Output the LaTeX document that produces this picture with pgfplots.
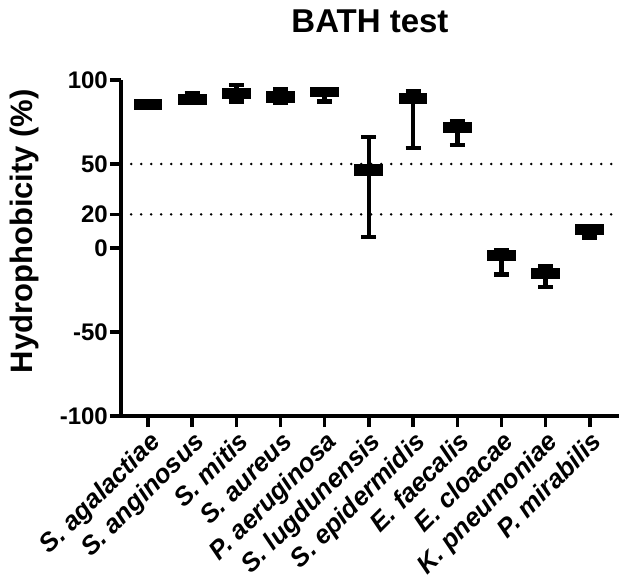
\documentclass[border=0pt]{standalone}
\usepackage{fontspec}
\setmainfont{Liberation Sans}
\usepackage{pgfplots}
\pgfplotsset{compat=1.18}
\usepgfplotslibrary{statistics}
\begin{document}
\begin{tikzpicture}
\useasboundingbox (-121bp,-166bp) rectangle (498bp,416bp);
\begin{axis}[
  at={(0,0)}, anchor=south west,
  scale only axis, width=498bp, height=336bp,
  xmin=-0.61, xmax=10.66, ymin=-100, ymax=100,
  axis x line*=bottom, axis y line*=left,
  axis line style={-, line width=3.5bp, black},
  ytick={-100,-50,0,20,50,100},
  xtick={0,1,2,3,4,5,6,7,8,9,10},
  xticklabels={S. agalactiae, S. anginosus, S. mitis, S. aureus, P. aeruginosa, S. lugdunensis, S. epidermidis, E. faecalis, E. cloacae, K. pneumoniae, P. mirabilis},
  tick align=outside, major tick length=11bp,
  tick style={line width=3.5bp, black},
  /pgf/number format/assume math mode=true,
  yticklabel style={font=\fontsize{24bp}{26bp}\selectfont\bfseries, inner sep=2bp},
  xticklabel style={font=\fontsize{26bp}{28bp}\selectfont\bfseries\itshape, rotate=45, anchor=north east, inner sep=2bp},
  ylabel={Hydrophobicity (\%)},
  ylabel style={font=\fontsize{31bp}{34bp}\selectfont\bfseries, at={(axis description cs:-0.193,0.55)}, anchor=center},
  title={BATH test},
  title style={font=\fontsize{33bp}{36bp}\selectfont\bfseries, at={(axis description cs:0.5,1)}, anchor=center, yshift=53bp},
  boxplot/draw direction=y,
  boxplot/box extend=0.55, boxplot/whisker extend=0.34,
  clip=false,
]
\addplot[black, line width=2.8bp, dash pattern=on 0pt off 10bp, line cap=round] coordinates {(-0.38,50) (10.66,50)};
\addplot[black, line width=2.8bp, dash pattern=on 0pt off 10bp, line cap=round] coordinates {(-0.38,20) (10.66,20)};
\addplot[black, fill=black, line width=4.5bp, boxplot prepared={draw position=0, lower whisker=83.3, lower quartile=83.3, median=85.3, upper quartile=87.2, upper whisker=87.2}] coordinates {};
\addplot[black, fill=black, line width=4.5bp, boxplot prepared={draw position=1, lower whisker=86.3, lower quartile=86.3, median=88.4, upper quartile=90.5, upper whisker=92.3}] coordinates {};
\addplot[black, fill=black, line width=4.5bp, boxplot prepared={draw position=2, lower whisker=87.2, lower quartile=89.9, median=92.0, upper quartile=94.0, upper whisker=97.0}] coordinates {};
\addplot[black, fill=black, line width=4.5bp, boxplot prepared={draw position=3, lower whisker=86.5, lower quartile=87.5, median=89.8, upper quartile=92.0, upper whisker=94.3}] coordinates {};
\addplot[black, fill=black, line width=4.5bp, boxplot prepared={draw position=4, lower whisker=87.2, lower quartile=91.0, median=93.0, upper quartile=94.6, upper whisker=94.6}] coordinates {};
\addplot[black, fill=black, line width=4.5bp, boxplot prepared={draw position=5, lower whisker=6.5, lower quartile=44.0, median=46.4, upper quartile=48.8, upper whisker=66.2}] coordinates {};
\addplot[black, fill=black, line width=4.5bp, boxplot prepared={draw position=6, lower whisker=59.6, lower quartile=87.2, median=89.0, upper quartile=91.0, upper whisker=93.2}] coordinates {};
\addplot[black, fill=black, line width=4.5bp, boxplot prepared={draw position=7, lower whisker=61.2, lower quartile=70.0, median=72.0, upper quartile=73.8, upper whisker=75.3}] coordinates {};
\addplot[black, fill=black, line width=4.5bp, boxplot prepared={draw position=8, lower whisker=-15.8, lower quartile=-6.4, median=-4.5, upper quartile=-2.5, upper whisker=-1.5}] coordinates {};
\addplot[black, fill=black, line width=4.5bp, boxplot prepared={draw position=9, lower whisker=-23.3, lower quartile=-17.1, median=-15.0, upper quartile=-13.0, upper whisker=-10.6}] coordinates {};
\addplot[black, fill=black, line width=4.5bp, boxplot prepared={draw position=10, lower whisker=6.25, lower quartile=8.9, median=10.8, upper quartile=12.8, upper whisker=12.8}] coordinates {};
\end{axis}
\end{tikzpicture}
\end{document}
